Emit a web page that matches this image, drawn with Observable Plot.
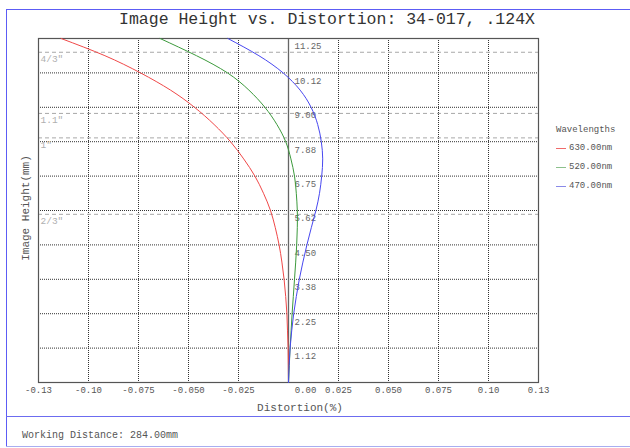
<!DOCTYPE html>
<html>
<head>
<meta charset="utf-8">
<script src="https://cdn.jsdelivr.net/npm/d3@7"></script>
<script src="https://cdn.jsdelivr.net/npm/@observablehq/plot@0.6"></script>
<style>
  html, body { margin: 0; padding: 0; background: #fff; }
  #wrap { position: relative; width: 630px; height: 448px; overflow: hidden; font-family: "Courier New", "Liberation Mono", monospace; }
  #wrap svg { position: absolute; left: 0; top: 0; }
  .abs { position: absolute; white-space: nowrap; }
</style>
</head>
<body>
<div id="wrap"></div>
<script>
// ---- data ----
const wavelengths = ["630.00nm", "520.00nm", "470.00nm"];
const seriesColors = ["#f04848", "#3c9a3c", "#4848f0"];
const legendColors = ["#f06a6a", "#8cc08c", "#8a8ae8"];

const imageHeights = [0, 0.5625, 1.125, 1.6875, 2.25, 2.8125, 3.375, 3.9375, 4.5, 5.0625, 5.625,
                      6.1875, 6.75, 7.3125, 7.875, 8.4375, 9.0, 9.5625, 10.125, 10.6875, 11.25];
const redD   = [0, -0.0001, -0.0002, -0.0005, -0.0008, -0.0014, -0.0022, -0.0033, -0.0047, -0.0066, -0.009,
                -0.0125, -0.0168, -0.0224, -0.029, -0.0372, -0.047, -0.059, -0.074, -0.0918, -0.1137];
const greenD = [0, 0.0004, 0.0008, 0.0013, 0.0018, 0.0024, 0.003, 0.0036, 0.0041, 0.0044, 0.0044,
                0.0039, 0.003, 0.0012, -0.0014, -0.0058, -0.0118, -0.0198, -0.0305, -0.046, -0.0642];
const blueD  = [0, 0.0003, 0.0008, 0.0016, 0.0026, 0.0039, 0.0054, 0.0072, 0.0092, 0.0114, 0.0137,
                0.0155, 0.0166, 0.0171, 0.0164, 0.0146, 0.0113, 0.0058, -0.0027, -0.0148, -0.0303];

const xTickValues = [-0.125, -0.1, -0.075, -0.05, -0.025, 0.025, 0.05, 0.075, 0.1, 0.125];
const xTickLabels = ["-0.13", "-0.10", "-0.075", "-0.050", "-0.025", "0.025", "0.050", "0.075", "0.10", "0.13"];
const xZeroLabel = "0.00";
const yTickValues = [11.25, 10.125, 9.0, 7.875, 6.75, 5.625, 4.5, 3.375, 2.25, 1.125];
const yTickLabels = ["11.25", "10.12", "9.00", "7.88", "6.75", "5.62", "4.50", "3.38", "2.25", "1.12"];
const sensorNames = ["4/3\"", "1.1\"", "1\"", "2/3\""];
const sensorHeights = [10.8, 8.8, 8.0, 5.5];

const titleText = "Image Height vs. Distortion: 34-017, .124X";
const xLabel = "Distortion(%)";
const yLabel = "Image Height(mm)";
const legendTitle = "Wavelengths";
const captionText = "Working Distance: 284.00mm";

// ---- build ----
const toRows = (D) => imageHeights.map((h, i) => ({h, d: D[i]}));
const series = [toRows(redD), toRows(greenD), toRows(blueD)];
const xTicks = xTickValues.map((v, i) => ({v, label: xTickLabels[i]}));
const yTicks = yTickValues.map((v, i) => ({v, label: yTickLabels[i]}));
const sensors = sensorHeights.map((v, i) => ({v, label: sensorNames[i]}));
const gridXVals = xTickValues;
const gridYVals = yTickValues.slice(1);

const font = "'Courier New', 'Liberation Mono', monospace";

const chart = Plot.plot({
  width: 630,
  height: 448,
  marginLeft: 38,
  marginRight: 92,
  marginTop: 38,
  marginBottom: 66,
  x: {domain: [-0.125, 0.125], axis: null},
  y: {domain: [0, 11.25], axis: null},
  style: {fontFamily: font, background: "transparent"},
  marks: [
    Plot.ruleX(gridXVals, {stroke: "#333", strokeDasharray: "1,1", strokeWidth: 1}),
    Plot.ruleY(gridYVals, {stroke: "#333", strokeDasharray: "1,1", strokeWidth: 1}),
    Plot.ruleY(sensors, {y: "v", stroke: "#a8a8a8", strokeDasharray: "4,3", strokeWidth: 1}),
    Plot.text(sensors, {x: -0.125, y: "v", text: "label", textAnchor: "start", dx: 2, dy: 7, fill: "#b0b0b0", fontSize: 9.5}),
    Plot.ruleX([0], {stroke: "#666", strokeWidth: 1.3}),
    Plot.frame({stroke: "#555", strokeWidth: 1.2}),
    Plot.text(yTicks, {x: 0, y: "v", text: "label", textAnchor: "start", dx: 6, dy: 8, fill: "#666", fontSize: 9}),
    Plot.text(xTicks, {x: "v", text: "label", frameAnchor: "bottom", dy: 10, fill: "#555", fontSize: 9}),
    Plot.text([xZeroLabel], {x: 0, text: d => d, frameAnchor: "bottom", dx: 17, dy: 10, fill: "#555", fontSize: 9}),
    ...series.map((rows, i) => Plot.line(rows, {x: "d", y: "h", stroke: seriesColors[i], strokeWidth: 1, curve: "natural"}))
  ]
});

const wrap = document.getElementById("wrap");
wrap.appendChild(chart);

function addText(txt, css) {
  const el = document.createElement("div");
  el.className = "abs";
  el.textContent = txt;
  Object.assign(el.style, css);
  wrap.appendChild(el);
  return el;
}
function addLine(css) {
  const el = document.createElement("div");
  el.style.position = "absolute";
  Object.assign(el.style, css);
  wrap.appendChild(el);
}

// frame lines
addLine({left: "6px", top: "9px", width: "1px", height: "438px", background: "#5c5cf5"});
addLine({left: "6px", top: "9px", width: "624px", height: "1px", background: "#5c5cf5"});
addLine({left: "6px", top: "416px", width: "624px", height: "1px", background: "#6c6cf0"});
addLine({left: "6px", top: "446px", width: "624px", height: "1px", background: "#a8aef0"});

// title
addText(titleText, {left: "0px", width: "654px", textAlign: "center", top: "10px", fontSize: "16.5px", color: "#333", lineHeight: "20px"});
// x label
addText(xLabel, {left: "200px", width: "200px", textAlign: "center", top: "401px", fontSize: "11px", color: "#555", lineHeight: "14px"});
// y label
addText(yLabel, {left: "26px", top: "208px", fontSize: "11px", color: "#555", lineHeight: "14px", transform: "translate(-50%, -50%) rotate(-90deg)"});
// caption
addText(captionText, {left: "22px", top: "429px", fontSize: "10px", color: "#555", lineHeight: "14px"});
// legend
addText(legendTitle, {left: "556px", top: "124px", fontSize: "9px", color: "#555", lineHeight: "13px"});
wavelengths.forEach((w, i) => {
  const y = 148.5 + i * 18.8;
  addLine({left: "556px", top: (y - 0.5) + "px", width: "10px", height: "1px", background: legendColors[i]});
  addText(w, {left: "569px", top: (y - 6.5) + "px", fontSize: "9px", color: "#555", lineHeight: "13px"});
});
</script>
</body>
</html>
